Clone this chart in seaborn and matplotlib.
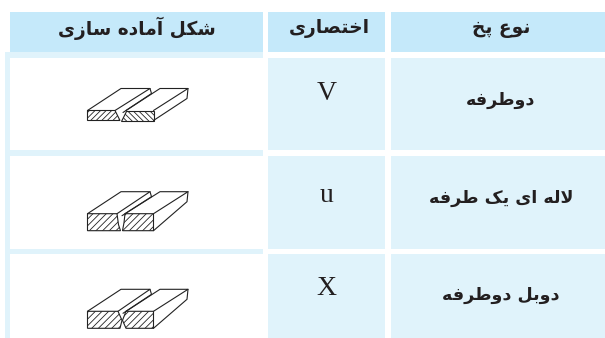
import matplotlib
matplotlib.use('Agg')
import matplotlib.pyplot as plt
from matplotlib.patches import Polygon, Rectangle
import seaborn as sns

# table text, logical order
headers = ['شکل آماده سازی', 'اختصاری', 'نوع پخ']
joint_names = ['دوطرفه', 'لاله ای یک طرفه', 'دوبل دوطرفه']
abbrevs = ['V', 'u', 'X']

HEAD = '#C5E9FA'
LIGHT = '#E0F3FB'
INK = '#231F20'

# (isolated, final, initial, medial) presentation forms
FORMS = {
    'ش': (0xFEB5, 0xFEB6, 0xFEB7, 0xFEB8), 'ک': (0xFB8E, 0xFB8F, 0xFB90, 0xFB91),
    'ل': (0xFEDD, 0xFEDE, 0xFEDF, 0xFEE0), 'م': (0xFEE1, 0xFEE2, 0xFEE3, 0xFEE4),
    'ه': (0xFEE9, 0xFEEA, 0xFEEB, 0xFEEC), 'س': (0xFEB1, 0xFEB2, 0xFEB3, 0xFEB4),
    'ی': (0xFBFC, 0xFBFD, 0xFBFE, 0xFBFF), 'خ': (0xFEA5, 0xFEA6, 0xFEA7, 0xFEA8),
    'ت': (0xFE95, 0xFE96, 0xFE97, 0xFE98), 'ص': (0xFEB9, 0xFEBA, 0xFEBB, 0xFEBC),
    'ن': (0xFEE5, 0xFEE6, 0xFEE7, 0xFEE8), 'ع': (0xFEC9, 0xFECA, 0xFECB, 0xFECC),
    'پ': (0xFB56, 0xFB57, 0xFB58, 0xFB59), 'ط': (0xFEC1, 0xFEC2, 0xFEC3, 0xFEC4),
    'ف': (0xFED1, 0xFED2, 0xFED3, 0xFED4), 'ب': (0xFE8F, 0xFE90, 0xFE91, 0xFE92),
    'آ': (0xFE81, 0xFE82), 'ا': (0xFE8D, 0xFE8E), 'د': (0xFEA9, 0xFEAA),
    'ز': (0xFEAF, 0xFEB0), 'ر': (0xFEAD, 0xFEAE), 'و': (0xFEED, 0xFEEE),
    'ﻻ': (0xFEFB, 0xFEFC),
}


def shape(s):
    # matplotlib has no arabic shaping, so pick the forms and reverse by hand
    s = s.replace('لا', 'ﻻ')
    out = []
    for i, c in enumerate(s):
        if c not in FORMS:
            out.append(c)
            continue
        prev_joins = i > 0 and s[i - 1] in FORMS and len(FORMS[s[i - 1]]) == 4
        next_joins = i < len(s) - 1 and s[i + 1] in FORMS
        f = FORMS[c]
        if len(f) == 2:
            out.append(chr(f[1] if prev_joins else f[0]))
        elif prev_joins and next_joins:
            out.append(chr(f[3]))
        elif prev_joins:
            out.append(chr(f[1]))
        elif next_joins:
            out.append(chr(f[2]))
        else:
            out.append(chr(f[0]))
    return ''.join(reversed(out))


def stroke(ax, pts, y0):
    sns.lineplot(x=[p[0] for p in pts], y=[p[1] + y0 for p in pts], sort=False,
                 estimator=None, color='#222222', linewidth=0.8, ax=ax)


def hatch_block(ax, pts, y0, hatch):
    ax.add_patch(Polygon([(x, y + y0) for x, y in pts], closed=True, facecolor='white',
                         edgecolor='#222222', hatch=hatch, linewidth=0.8))


def joint(ax, y0, h, left_face, right_face, hatches):
    # y0 is the back edge of the plates, h the front face height
    d = 22
    hatch_block(ax, left_face, y0, hatches[0])
    hatch_block(ax, right_face, y0, hatches[1])
    lx, rx = left_face[1][0], right_face[0][0]
    stroke(ax, [(87.5, d), (121, 0), (150, 0), (lx, d)], y0)
    stroke(ax, [(150, 0), (151.5, 5), (rx - 3, d + 2)], y0)
    stroke(ax, [(rx, d), (160, 0), (188, 0), (153.5, d)], y0)
    stroke(ax, [(188, 0), (187, 10), (153.5, d + h)], y0)


sns.set_theme(style='white')
plt.rcParams['hatch.linewidth'] = 0.6
plt.rcParams['hatch.color'] = '#222222'

fig = plt.figure(figsize=(6.05, 3.38), dpi=100)
ax = fig.add_axes([0, 0, 1, 1])

# backgrounds
for x0, x1 in [(10, 263), (268, 385), (391, 605)]:
    ax.add_patch(Rectangle((x0, 12), x1 - x0, 40, color=HEAD, lw=0))
for x0, x1 in [(268, 385), (391, 605)]:
    for y0, y1 in [(58, 150), (156, 249), (254, 338)]:
        ax.add_patch(Rectangle((x0, y0), x1 - x0, y1 - y0, color=LIGHT, lw=0))
ax.add_patch(Rectangle((5, 52), 5, 286, color=LIGHT, lw=0))
for y0, y1 in [(52, 58), (150, 156), (249, 254)]:
    ax.add_patch(Rectangle((5, y0), 258, y1 - y0, color=LIGHT, lw=0))

# text
for x, t in zip([137, 329, 501], headers):
    ax.text(x, 28, shape(t), ha='center', va='center', fontsize=13.4, fontweight='bold',
            family='DejaVu Sans', color=INK)
for y, t in zip([100, 198, 295], joint_names):
    ax.text(501, y, shape(t), ha='center', va='center', fontsize=12.6, fontweight='bold',
            family='DejaVu Sans', color=INK)
for y, t in zip([94, 195, 288.5], abbrevs):
    ax.text(326.5, y, t, ha='center', va='center', fontsize=20, family='Liberation Serif',
            color=INK)

# joint sketches
joint(ax, 88.5, 10,
      [(87.5, 22), (115, 22), (120, 32), (87.5, 32)],
      [(126, 22), (153.5, 22), (153.5, 32), (121, 32)],
      ['//////', '\\\\\\\\\\\\'])
joint(ax, 191.7, 17,
      [(87.5, 22), (117, 22), (118.5, 33), (120.5, 39), (87.5, 39)],
      [(125, 22), (153.5, 22), (153.5, 39), (122.5, 39), (124, 31)],
      ['/////', '/////'])
joint(ax, 289.3, 17,
      [(87.5, 22), (118, 22), (122, 31), (120, 39), (87.5, 39)],
      [(126, 22), (153.5, 22), (153.5, 39), (126, 39), (122.5, 31)],
      ['/////', '/////'])

ax.set_xlim(0, 605)
ax.set_ylim(338, 0)
ax.axis('off')
fig.savefig('out.png', dpi=100)
